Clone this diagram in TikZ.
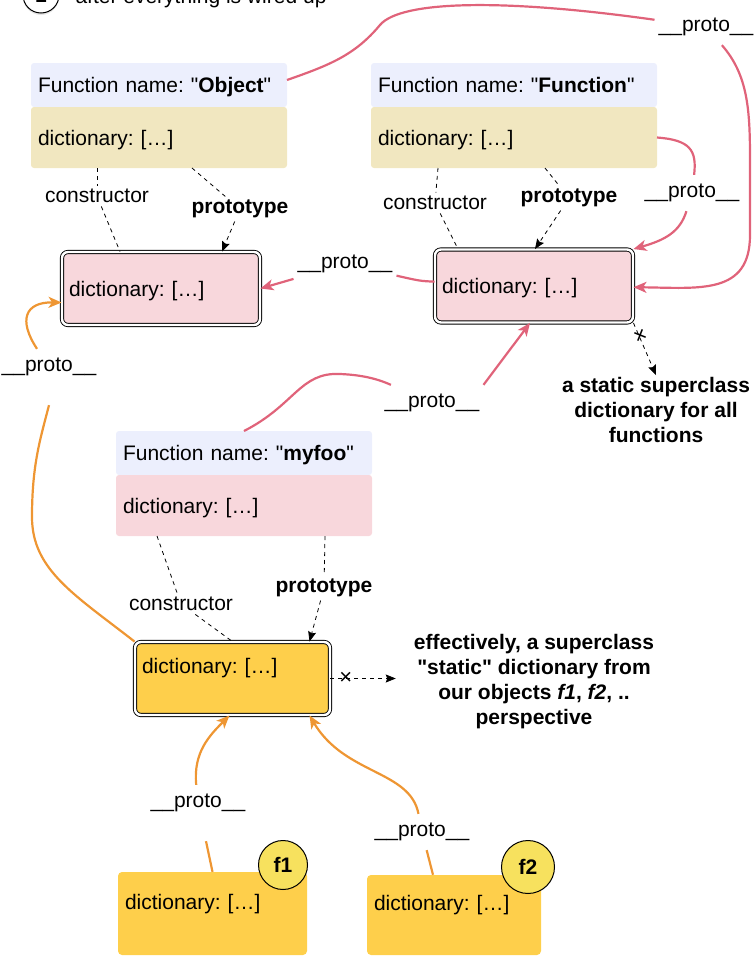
\documentclass[tikz,border=0pt]{standalone}
\usepackage{fontspec}
\setmainfont{Liberation Sans}
\usepackage{tikz}
\usetikzlibrary{arrows.meta}
\usetikzlibrary{positioning}
\usetikzlibrary{shadows}
\frenchspacing

\definecolor{headblue}{HTML}{ECEFFD}
\definecolor{bodybeige}{HTML}{F1E7C0}
\definecolor{dictpink}{HTML}{F8D7DC}
\definecolor{dictyellow}{HTML}{FECF4B}
\definecolor{tagyellow}{HTML}{F7E15E}
\definecolor{protopink}{HTML}{E0637A}
\definecolor{protoorange}{HTML}{EE9633}

\tikzset{
  nodefont/.style={font=\fontsize{21}{25}\selectfont},
  fnhead/.style={nodefont, fill=headblue, rounded corners=3pt, inner xsep=7pt, inner ysep=0pt,
    minimum height=44pt, text height=15pt, text depth=0pt, align=left, outer sep=0pt},
  fnbody/.style={fnhead, minimum height=61pt},
  dictbox/.style={nodefont, fill=dictpink, draw=black, line width=0.9pt, double=white,
    double distance=2.4pt, rounded corners=6pt, inner xsep=7pt, inner ysep=0pt,
    minimum height=73pt, text height=15pt, text depth=0pt, align=left},
  objbox/.style={nodefont, fill=dictyellow, rounded corners=4pt, inner xsep=7pt, inner ysep=0pt,
    text height=15pt, align=left},
  tag/.style={circle, draw=black, line width=1pt, fill=tagyellow, inner sep=0pt,
    font=\fontsize{21}{25}\selectfont\bfseries},
  lbl/.style={nodefont, inner xsep=4pt, inner ysep=9pt},
  notetxt/.style={font=\fontsize{21}{25}\selectfont\bfseries, align=center, inner sep=2pt},
  dashline/.style={line width=0.8pt, dash pattern=on 4pt off 4pt},
  dashtip/.style={-{Stealth[length=10pt,width=8pt,inset=1.5pt]}},
  pinkline/.style={protopink, line width=2.2pt},
  orangeline/.style={protoorange, line width=2.2pt},
  protoarrow/.style={-{Stealth[length=13pt,width=11pt,inset=3.5pt]}},
  xmark/.style={inner sep=0pt, font=\fontsize{22}{22}\selectfont},
}

\begin{document}
\begin{tikzpicture}[x=1pt,y=-1pt]
\useasboundingbox (0,0) rectangle (753,956);
\clip (0,0) rectangle (753,956);

% heading, cut by the top edge
\node[circle, draw, line width=1pt, fill=white, minimum size=36pt, inner sep=0pt,
  drop shadow={opacity=0.2, shadow xshift=0pt, shadow yshift=-2pt},
  font=\fontsize{21}{25}\selectfont\bfseries] (stepone) at (41,-5) {1};
\node[nodefont, anchor=base west] (title) at (72,3) {after everything is wired up};

% function objects
\node[fnhead, text width=242pt] (objhead) at (159,85) {Function name: \textquotedbl\textbf{Object}\textquotedbl};
\node[fnbody, fill=bodybeige, text width=242pt, below=0pt of objhead] (objbody) {dictionary: […]};

\node[fnhead, text width=272pt] (funchead) at (514,85) {Function name: \textquotedbl\textbf{Function}\textquotedbl};
\node[fnbody, fill=bodybeige, text width=272pt, below=0pt of funchead] (funcbody) {dictionary: […]};

\node[fnhead, text width=242pt] (myhead) at (244,453) {Function name: \textquotedbl\textbf{myfoo}\textquotedbl};
\node[fnbody, fill=dictpink, text width=242pt, below=0pt of myhead] (mybody) {dictionary: […]};

% prototype dictionaries
\node[dictbox, text width=184pt] (objdict) at (161,288.5) {dictionary: […]};
\node[dictbox, text width=184pt] (funcdict) at (534,286) {dictionary: […]};
\node[dictbox, fill=dictyellow, text width=181pt, text depth=26pt] (myproto) at (232.5,678.5) {dictionary: […]};

% instances
\node[objbox, text width=175pt, minimum height=83pt, text depth=23pt] (f1box) at (212.5,913.5) {dictionary: […]};
\node[objbox, text width=160pt, minimum height=80pt, text depth=24pt] (f2box) at (454,915) {dictionary: […]};
\node[tag, minimum size=49pt] (f1tag) at (283,865) {f1};
\node[tag, minimum size=53pt] (f2tag) at (528,867) {f2};

% notes
\node[notetxt] (note1) at (656,410) {a static superclass\\dictionary for all\\functions};
\node[notetxt] (note2) at (534,682) {effectively, a superclass\\\textquotedbl static\textquotedbl{} dictionary from\\our objects \textit{f1}, \textit{f2}, ..\\perspective};

% constructor / prototype labels
\node[nodefont] (oc) at (97,196) {constructor};
\node[nodefont, font=\fontsize{21}{25}\selectfont\bfseries] (op) at (240,209) {prototype};
\node[nodefont] (fc) at (435,203) {constructor};
\node[nodefont, font=\fontsize{21}{25}\selectfont\bfseries] (fp) at (569,198) {prototype};
\node[nodefont] (mc) at (181,604) {constructor};
\node[nodefont, font=\fontsize{21}{25}\selectfont\bfseries] (mp) at (324,588) {prototype};

% __proto__ labels
\node[lbl] (pa) at (706,27) {\_\_proto\_\_};
\node[lbl] (pb) at (692,193) {\_\_proto\_\_};
\node[lbl] (pc) at (345,264) {\_\_proto\_\_};
\node[lbl] (pd) at (432,403) {\_\_proto\_\_};
\node[lbl] (pe) at (49,367) {\_\_proto\_\_};
\node[lbl] (pf) at (198,803) {\_\_proto\_\_};
\node[lbl] (pg) at (422,832) {\_\_proto\_\_};

% dashed links
\draw[dashline] (oc.north |- objbody.south) -- (oc);
\draw[dashline] (oc) -- ([xshift=-41pt]objdict.north);
\draw[dashline] ([xshift=33pt]objbody.south) -- (op);
\draw[dashline,dashtip] (op) -- ([xshift=61pt]objdict.north);
\draw[dashline] ([xshift=-76pt]funcbody.south) -- (fc);
\draw[dashline] (fc) -- ([xshift=-76pt]funcdict.north);
\draw[dashline] ([xshift=31pt]funcbody.south) -- (fp);
\draw[dashline,dashtip] (fp) -- ([xshift=1pt]funcdict.north);
\draw[dashline] ([xshift=-87pt]mybody.south) -- (mc);
\draw[dashline] (mc) -- (myproto.north);
\draw[dashline] ([xshift=81pt]mybody.south) -- (mp);
\draw[dashline,dashtip] (mp) -- ([xshift=77pt]myproto.north);

\draw[dashline,dashtip] (funcdict.south east) -- (note1.north)
  node[xmark, pos=0.25, sloped] (xa) {×};
\draw[dashline,dashtip,shorten >=16pt] (myproto.east) -- (myproto.east -| note2.west)
  node[xmark, pos=0.19] (xb) {×};

% pink __proto__ links
\draw[pinkline] ([yshift=5pt]objhead.east) .. controls (330,65) and (355,55) .. (380,25)
  .. controls (400,1) and (500,-2) .. (pa);
\draw[pinkline,protoarrow] (pa) .. controls (748,75) and (750,110) .. (750,160) -- (750,235)
  .. controls (750,295) and (700,288) .. (funcdict);
\draw[pinkline] (funcbody.east) .. controls (690,140) and (697,150) .. (pb);
\draw[pinkline,protoarrow] (pb) .. controls (680,232) and (665,240) .. (funcdict.north east);
\draw[pinkline] (funcdict) .. controls (420,281) .. (pc);
\draw[pinkline,protoarrow] (pc) -- (objdict.east);
\draw[pinkline] (myhead.north) .. controls (295,405) and (300,372) .. (340,374)
  .. controls (365,375) and (380,380) .. (pd);
\draw[pinkline,protoarrow] (pd.north east) -- ([xshift=-4pt]funcdict.south);

% orange __proto__ links
\draw[orangeline] (myproto.north west) .. controls (75,595) and (32,570) .. (32,517)
  .. controls (32,465) and (40,440) .. ([yshift=-20pt]pe.south);
\draw[orangeline,protoarrow] (pe) .. controls (18,320) and (25,302) .. ([yshift=-14pt]objdict.west);
\draw[orangeline] (f1box.north) -- ([shift={(8pt,-20pt)}]pf.south);
\draw[orangeline,protoarrow] (pf) .. controls (193,752) and (210,735) .. ([xshift=-3pt]myproto.south);
\draw[orangeline] ([xshift=-21pt]f2box.north) -- (pg);
\draw[orangeline,protoarrow] (pg) .. controls (410,770) and (345,775) .. ([xshift=77pt]myproto.south);
\end{tikzpicture}
\end{document}
